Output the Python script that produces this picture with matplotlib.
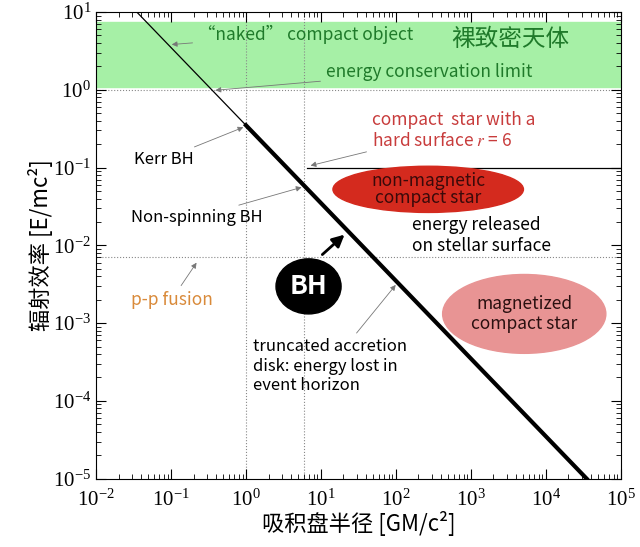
import numpy as np
import matplotlib.pyplot as plt
from matplotlib.patches import Ellipse

plt.rcParams['font.family'] = ['Noto Sans CJK SC', 'DejaVu Sans']
plt.rcParams['mathtext.fontset'] = 'stix'

# efficiency line eta = 0.35 / r
r_thin = [0.035, 1.0]
eta_thin = [10.0, 0.35]
r_thick = [1.0, 3.5e4]
eta_thick = [0.35, 1.0e-5]

band = [1.1, 7.5]          # green band (energy conservation limit region)
hline_dot = [1.0, 0.007]   # dotted horizontal lines
vline_dot = [1.0, 6.0]     # dotted vertical lines
hard_surface = 0.1         # solid horizontal line from r = 6.5
hard_r0 = 6.5

fig = plt.figure(figsize=(6.4, 5.47), dpi=100)
ax = fig.add_axes([0.15, 0.125, 0.82, 0.853])
ax.set_xscale('log')
ax.set_yscale('log')
ax.set_xlim(1e-2, 1e5)
ax.set_ylim(1e-5, 1e1)

ax.axhspan(band[0], band[1], color='#a6f0a6', zorder=0)
for y in hline_dot:
    ax.axhline(y, color='#888888', ls=':', lw=0.8, zorder=1)
for x in vline_dot:
    ax.axvline(x, color='#888888', ls=':', lw=0.8, zorder=1)
ax.plot([hard_r0, 1e5], [hard_surface, hard_surface], color='k', lw=0.9)
ax.plot(r_thin, eta_thin, color='k', lw=0.9)
ax.plot(r_thick, eta_thick, color='k', lw=3)

# ellipses (axes coords)
ax.add_patch(Ellipse((0.633, 0.620), 0.363, 0.099, transform=ax.transAxes,
                     color='#d42a1e', zorder=2))
ax.add_patch(Ellipse((0.816, 0.353), 0.311, 0.169, transform=ax.transAxes,
                     color='#e89494', zorder=2))
ax.add_patch(Ellipse((0.405, 0.412), 0.124, 0.118, transform=ax.transAxes,
                     color='black', zorder=3))
ax.text(0.405, 0.412, 'BH', transform=ax.transAxes, color='white', fontsize=19,
        fontweight='bold', ha='center', va='center', zorder=4)
ax.text(0.633, 0.620, 'non-magnetic\ncompact star', transform=ax.transAxes,
        color='#3a0a0a', fontsize=12.5, ha='center', va='center', zorder=4,
        linespacing=0.95)
ax.text(0.816, 0.353, 'magnetized\ncompact star', transform=ax.transAxes,
        color='#2a1010', fontsize=12.5, ha='center', va='center', zorder=4)

ax.annotate('', xy=(22, 0.0145), xytext=(9.8, 0.0072),
            arrowprops=dict(arrowstyle='-|>', color='k', lw=2, mutation_scale=18))

arw = dict(arrowstyle='-|>', color='#777777', lw=0.6, mutation_scale=8)
green = '#1f7a2a'
ax.annotate('\u201cnaked\u201d compact object', xy=(0.094, 3.8), xytext=(0.23, 5.2),
            color=green, fontsize=12.5, va='center', arrowprops=arw)
ax.text(540, 4.4, '裸致密天体', color=green, fontsize=17, va='center')
ax.annotate('energy conservation limit', xy=(0.36, 0.98), xytext=(11.7, 1.7),
            color=green, fontsize=12.5, va='center', arrowprops=arw)
ax.annotate('Kerr BH', xy=(1.0, 0.34), xytext=(0.032, 0.128),
            color='k', fontsize=12, va='center', arrowprops=arw)
ax.annotate('Non-spinning BH', xy=(6.0, 0.057), xytext=(0.029, 0.023),
            color='k', fontsize=12, va='center', arrowprops=arw)
ax.annotate('compact  star with a\nhard surface $r$ = 6', xy=(6.7, 0.104),
            xytext=(48, 0.3), color='#c83c3c', fontsize=12.5, va='center',
            arrowprops=arw)
ax.text(163, 0.0135, 'energy released\non stellar surface', color='k',
        fontsize=12.5, va='center')
ax.annotate('p-p fusion', xy=(0.23, 0.0064), xytext=(0.029, 0.002),
            color='#d98a3a', fontsize=12.5, va='center', arrowprops=arw)
ax.annotate('truncated accretion\ndisk: energy lost in\nevent horizon',
            xy=(105, 0.0033), xytext=(1.23, 0.00028), color='k', fontsize=12,
            va='center', arrowprops=arw)

ax.tick_params(which='both', direction='in', top=True, right=True)
ax.tick_params(which='major', length=7, labelsize=15)
ax.tick_params(axis='x', which='major', pad=8)
ax.tick_params(which='minor', length=3.5)
for lbl in ax.get_xticklabels() + ax.get_yticklabels():
    lbl.set_family('Liberation Serif')
ax.set_xlabel('吸积盘半径 [GM/c²]', fontsize=16, labelpad=0)
ax.set_ylabel('辐射效率 [E/mc²]', fontsize=16, labelpad=0)

fig.savefig('out.png', dpi=100)
